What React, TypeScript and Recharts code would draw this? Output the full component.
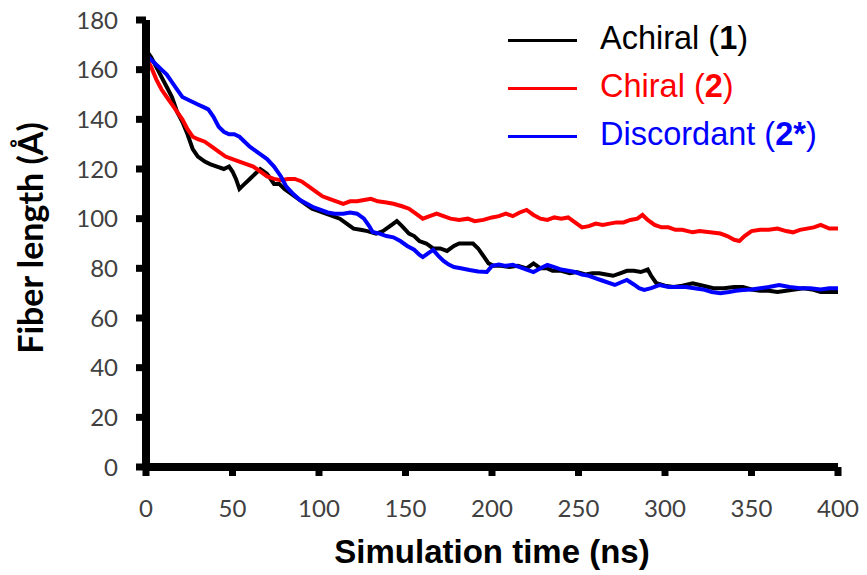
import { LineChart, Line, XAxis, YAxis, Legend, Label, ReferenceLine } from 'recharts';

// [time (ns), fiber length (Å)]
const ACHIRAL: [number, number][] = [
  [0, 168], [3, 165], [6, 161], [9, 157], [12, 153], [15, 149], [18, 143], [21, 139], [24, 134], [27, 128],
  [30, 125], [34, 123], [37, 122], [41, 121], [45, 120], [48, 121], [50, 119], [52, 116], [54, 112], [57, 114],
  [60, 116], [63, 118], [66, 120], [68, 119], [70, 118], [72, 116], [74, 114], [77, 114], [80, 112], [84, 110],
  [88, 108], [92, 106], [96, 104], [100, 103], [104, 102], [108, 101], [112, 100], [116, 98], [120, 96], [124, 95.5],
  [128, 95], [133, 94], [137, 95], [141, 97], [145, 99], [148, 97], [152, 94], [155, 93], [158, 91], [162, 90],
  [166, 88], [170, 88], [174, 87], [178, 89], [181, 90], [185, 90], [189, 90], [192, 88], [195, 85], [198, 82],
  [201, 81], [205, 81], [210, 80.5], [215, 81], [220, 80], [224, 82], [228, 80], [232, 80], [235, 79], [240, 79],
  [245, 78], [249, 78.5], [254, 77.5], [258, 78], [262, 78], [266, 77.5], [270, 77], [274, 78], [278, 79], [282, 79],
  [286, 78.5], [290, 79.5], [292, 77], [295, 74], [300, 73], [305, 72.5], [310, 73], [316, 74], [322, 73], [328, 72],
  [334, 72], [340, 72.5], [345, 72.5], [350, 71.5], [355, 71], [360, 71], [365, 70.5], [370, 71], [375, 71.5], [380, 72],
  [385, 71.5], [390, 70.5], [395, 70.5], [400, 70.5],
];

const CHIRAL: [number, number][] = [
  [0, 165], [3, 161], [6, 156], [9, 152], [12, 149], [15, 146], [18, 143], [21, 140], [24, 136], [27, 133],
  [30, 132], [34, 131], [38, 129], [42, 127], [46, 125], [50, 124], [54, 123], [58, 122], [62, 121], [66, 119],
  [70, 117], [74, 116], [78, 115.5], [82, 116], [86, 116], [90, 115], [94, 113], [98, 111], [102, 109], [106, 108],
  [110, 107], [114, 106], [118, 107], [122, 107], [126, 107.5], [130, 108], [134, 107], [139, 106.5], [143, 106], [148, 105],
  [152, 104], [156, 102], [160, 100], [164, 101], [168, 102], [172, 101], [176, 100], [181, 99.5], [186, 100], [190, 99],
  [195, 99.5], [200, 100.5], [204, 101], [208, 102], [212, 101], [216, 102.5], [220, 103.5], [224, 101.5], [228, 100], [232, 99.5],
  [236, 100.5], [240, 100], [244, 100.5], [248, 98.5], [252, 96.5], [256, 97], [260, 98], [264, 97.5], [268, 98], [272, 98.5],
  [276, 98.5], [280, 99.5], [284, 100], [287, 101.5], [290, 99.5], [294, 97.5], [298, 96.5], [302, 96.5], [306, 95.5], [310, 95.5],
  [316, 94.5], [320, 95], [326, 94.5], [332, 94], [336, 93], [340, 91.5], [343, 91], [346, 93], [350, 95], [355, 95.5],
  [360, 95.5], [365, 96], [370, 95], [374, 94.5], [378, 95.5], [382, 96], [386, 96.5], [390, 97.5], [395, 96], [400, 96],
];

const DISCORDANT: [number, number][] = [
  [0, 166], [3, 164], [6, 162], [9, 160], [12, 158], [15, 155], [18, 152], [21, 149], [24, 148], [27, 147],
  [30, 146], [33, 145], [36, 144], [39, 141], [42, 137], [45, 135], [48, 134], [51, 134], [54, 133], [57, 131],
  [60, 129], [63, 127.5], [66, 126], [70, 124], [74, 121], [78, 117], [81, 113], [85, 110], [89, 107.5], [93, 106],
  [97, 104.5], [101, 103.5], [105, 102.5], [109, 102], [114, 102], [118, 102.5], [122, 102], [126, 100], [129, 97], [131, 94.6],
  [135, 94], [139, 93], [143, 92.5], [147, 91], [151, 89], [155, 87.5], [158, 85.5], [160, 84.5], [163, 86], [166, 87.4],
  [169, 85], [172, 83], [175, 81.5], [178, 80.5], [182, 80], [187, 79.3], [192, 78.7], [197, 78.5], [200, 81], [204, 81.5],
  [208, 81], [212, 81.4], [216, 80.5], [220, 79.5], [224, 78.5], [228, 80], [232, 81.4], [236, 80.5], [240, 79.5], [244, 79],
  [248, 78.5], [252, 77.5], [256, 77], [260, 76], [264, 75], [268, 74], [271, 73.3], [275, 74.5], [278, 75.3], [282, 73.5],
  [285, 72], [288, 71.3], [292, 72], [297, 73.3], [302, 72.5], [307, 72.5], [312, 72.5], [317, 72], [322, 71.5], [327, 70.5],
  [332, 70], [337, 70.5], [341, 71], [345, 71.3], [350, 71.5], [355, 72], [360, 72.5], [366, 73.3], [372, 72.5], [378, 72],
  [384, 72], [390, 71.5], [395, 72], [400, 72],
];

const X_TICKS = [0, 50, 100, 150, 200, 250, 300, 350, 400];
const Y_TICKS = [0, 20, 40, 60, 80, 100, 120, 140, 160, 180];

const SERIES = [
  { key: 'achiral', name: 'Achiral', tag: '1', color: '#000000', points: ACHIRAL },
  { key: 'chiral', name: 'Chiral', tag: '2', color: '#ff0000', points: CHIRAL },
  { key: 'discordant', name: 'Discordant', tag: '2*', color: '#0000ff', points: DISCORDANT },
];

const toRows = (pts: [number, number][]) => pts.map(([t, v]) => ({ t, v }));

const TICK_FONT = { fontFamily: 'Lato', fontSize: 24, fill: '#404040' };
const TICK_SIZE = 10;
const Y_TICK_MARGIN = 18;
const X_TICK_MARGIN = 23;

// tick mark + label; the mark sits between the label and the axis
function YTick({ x, y, payload }: any) {
  const axisX = x + Y_TICK_MARGIN + TICK_SIZE;
  return (
    <g>
      <rect x={axisX - TICK_SIZE} y={y - 3.5} width={TICK_SIZE} height={7} fill="#000" />
      <text x={x} y={y} dy="0.36em" textAnchor="end" style={TICK_FONT}>
        {payload.value}
      </text>
    </g>
  );
}

function XTick({ x, y, payload }: any) {
  const axisY = y - X_TICK_MARGIN - TICK_SIZE;
  return (
    <g>
      <rect x={x - 3.5} y={axisY} width={7} height={TICK_SIZE - 1} fill="#000" />
      <text x={x} y={y} dy="0.71em" textAnchor="middle" style={TICK_FONT}>
        {payload.value}
      </text>
    </g>
  );
}

function LegendBox() {
  return (
    <div
      style={{
        position: 'absolute',
        left: 508,
        top: 14,
        fontFamily: '"Liberation Sans", Arial',
        fontSize: 32.5,
        whiteSpace: 'nowrap',
      }}
    >
      {SERIES.map((s) => (
        <div key={s.key} style={{ display: 'flex', alignItems: 'center', height: 48, color: s.color }}>
          <span style={{ display: 'inline-block', width: 69, height: 3, background: s.color, marginRight: 23, marginTop: 4 }} />
          <span>
            {s.name} (<b>{s.tag}</b>)
          </span>
        </div>
      ))}
    </div>
  );
}

export default function App() {
  return (
    <div style={{ position: 'absolute', left: 0, top: 0, width: 867, height: 575, background: '#fff' }}>
      <LineChart width={867} height={575} margin={{ top: 20, right: 29, bottom: 0, left: 0 }}>
        <XAxis
          dataKey="t"
          type="number"
          domain={[0, 400]}
          ticks={X_TICKS}
          allowDuplicatedCategory={false}
          height={108}
          tickSize={TICK_SIZE}
          tickMargin={X_TICK_MARGIN}
          tick={<XTick />}
          axisLine={false}
          tickLine={false}
        >
          <Label
            content={({ viewBox }: any) => (
              <text
                x={viewBox.x + viewBox.width / 2}
                y={viewBox.y + 96}
                textAnchor="middle"
                style={{ fontFamily: '"Liberation Sans", Arial', fontWeight: 'bold', fontSize: 33, fill: '#000' }}
              >
                Simulation time (ns)
              </text>
            )}
          />
        </XAxis>
        <YAxis
          type="number"
          domain={[0, 180]}
          ticks={Y_TICKS}
          width={146}
          tickSize={TICK_SIZE}
          tickMargin={Y_TICK_MARGIN}
          tick={<YTick />}
          axisLine={false}
          tickLine={false}
        >
          <Label
            content={({ viewBox }: any) => {
              const cx = viewBox.x + 43;
              const cy = 238;
              return (
                <text
                  x={cx}
                  y={cy}
                  transform={`rotate(-90 ${cx} ${cy})`}
                  textAnchor="middle"
                  style={{ fontFamily: 'Lato', fontWeight: 'bold', fontSize: 34, fill: '#000' }}
                >
                  Fiber length (Å)
                </text>
              );
            }}
          />
        </YAxis>
        <Legend
          content={() => <LegendBox />}
          wrapperStyle={{ position: 'absolute', left: 0, top: 0, width: 867, height: 0 }}
        />
        {SERIES.map((s) => (
          <Line
            key={s.key}
            data={toRows(s.points)}
            dataKey="v"
            name={s.name}
            type="linear"
            stroke={s.color}
            strokeWidth={4}
            dot={false}
            activeDot={false}
            isAnimationActive={false}
          />
        ))}
        <ReferenceLine x={0} stroke="#000" strokeWidth={8} ifOverflow="visible" />
        <ReferenceLine y={0} stroke="#000" strokeWidth={8} ifOverflow="visible" />
      </LineChart>
    </div>
  );
}
